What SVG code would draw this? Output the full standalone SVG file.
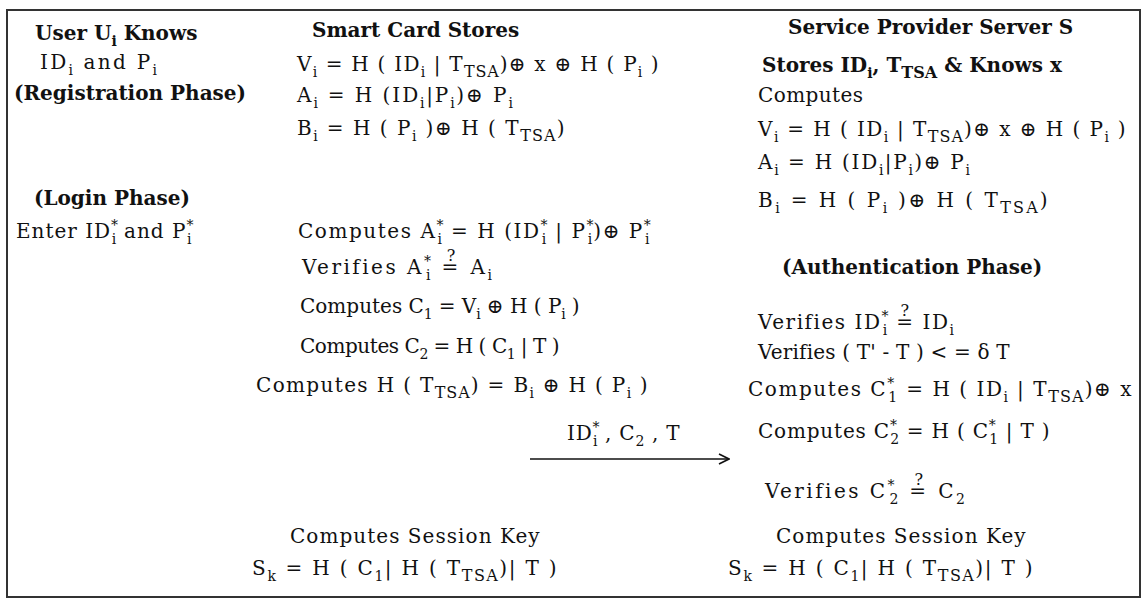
<svg xmlns="http://www.w3.org/2000/svg" width="1142" height="600" viewBox="0 0 1142 600">
<defs>
<style>
.t{font-family:"DejaVu Serif",serif;font-size:20px;letter-spacing:0.4px;fill:#111}
.b{font-family:"DejaVu Serif",serif;font-size:20px;font-weight:bold;fill:#111}
.s{font-size:14px;letter-spacing:0}
.ts{font-size:16px;letter-spacing:0}
.q{font-size:16px}
</style>
<marker id="ah" viewBox="0 0 12 12" refX="11" refY="6" markerWidth="12" markerHeight="12" markerUnits="userSpaceOnUse" orient="auto"><path d="M1,1 L11,6 L1,11" fill="none" stroke="#111" stroke-width="1.6"/></marker>
</defs>
<rect x="0" y="0" width="1142" height="600" fill="#fff"/>
<rect id="frame" x="7" y="10" width="1133" height="587" fill="none" stroke="#333" stroke-width="2"/>

<g id="user">
<text class="b" x="35" y="40">User U<tspan class="s" dy="6">i</tspan><tspan dy="-6"> Knows</tspan></text>
<text class="t" x="40" y="69" textLength="117">ID<tspan class="s" dy="6">i</tspan><tspan dy="-6"> and P</tspan><tspan class="s" dy="6">i</tspan></text>
<text class="b" x="14" y="100">(Registration Phase)</text>
<text class="b" x="34" y="205">(Login Phase)</text>
<text class="t" x="16" y="238" textLength="178">Enter ID<tspan class="s" dy="-8">*</tspan><tspan class="s" dx="-7" dy="14">i</tspan><tspan dy="-6"> and P</tspan><tspan class="s" dy="-8">*</tspan><tspan class="s" dx="-7" dy="14">i</tspan></text>
</g>

<g id="card">
<text class="b" x="312" y="37">Smart Card Stores</text>
<text class="t" x="297" y="71" textLength="362">V<tspan class="s" dy="6">i</tspan><tspan dy="-6"> = H ( ID</tspan><tspan class="s" dy="6">i</tspan><tspan dy="-6"> | T</tspan><tspan class="ts" dy="6">TSA</tspan><tspan dy="-6">)⊕ x ⊕ H ( P</tspan><tspan class="s" dy="6">i</tspan><tspan dy="-6"> )</tspan></text>
<text class="t" x="297" y="102" textLength="216">A<tspan class="s" dy="6">i</tspan><tspan dy="-6"> = H (ID</tspan><tspan class="s" dy="6">i</tspan><tspan dy="-6">|P</tspan><tspan class="s" dy="6">i</tspan><tspan dy="-6">)⊕ P</tspan><tspan class="s" dy="6">i</tspan></text>
<text class="t" x="297" y="135" textLength="268">B<tspan class="s" dy="6">i</tspan><tspan dy="-6"> = H ( P</tspan><tspan class="s" dy="6">i</tspan><tspan dy="-6"> )⊕ H ( T</tspan><tspan class="ts" dy="6">TSA</tspan><tspan dy="-6">)</tspan></text>
<text class="t" x="298" y="238" textLength="354">Computes A<tspan class="s" dy="-8">*</tspan><tspan class="s" dx="-7" dy="14">i</tspan><tspan dy="-6"> = H (ID</tspan><tspan class="s" dy="-8">*</tspan><tspan class="s" dx="-7" dy="14">i</tspan><tspan dy="-6"> | P</tspan><tspan class="s" dy="-8">*</tspan><tspan class="s" dx="-7" dy="14">i</tspan><tspan dy="-6">)⊕ P</tspan><tspan class="s" dy="-8">*</tspan><tspan class="s" dx="-7" dy="14">i</tspan></text>
<text class="t" x="302" y="274" textLength="190">Verifies  A<tspan class="s" dy="-8">*</tspan><tspan class="s" dx="-7" dy="14">i</tspan><tspan dy="-6"> =</tspan><tspan class="q" dx="-14" dy="-13">?</tspan><tspan dx="4" dy="13"> A</tspan><tspan class="s" dy="6">i</tspan></text>
<text class="t" x="300" y="313" textLength="280">Computes C<tspan class="s" dy="6">1</tspan><tspan dy="-6"> =  V</tspan><tspan class="s" dy="6">i</tspan><tspan dy="-6"> ⊕ H ( P</tspan><tspan class="s" dy="6">i</tspan><tspan dy="-6"> )</tspan></text>
<text class="t" x="300" y="353" textLength="260">Computes C<tspan class="s" dy="6">2</tspan><tspan dy="-6"> = H ( C</tspan><tspan class="s" dy="6">1</tspan><tspan dy="-6"> | T )</tspan></text>
<text class="t" x="256" y="392" textLength="392">Computes H ( T<tspan class="ts" dy="6">TSA</tspan><tspan dy="-6">) = B</tspan><tspan class="s" dy="6">i</tspan><tspan dy="-6"> ⊕ H ( P</tspan><tspan class="s" dy="6">i</tspan><tspan dy="-6"> )</tspan></text>
<text class="t" x="290" y="543" textLength="250">Computes Session Key</text>
<text class="t" x="252" y="575" textLength="305">S<tspan class="s" dy="6">k</tspan><tspan dy="-6"> = H ( C</tspan><tspan class="s" dy="6">1</tspan><tspan dy="-6">| H ( T</tspan><tspan class="ts" dy="6">TSA</tspan><tspan dy="-6">)| T )</tspan></text>
</g>

<g id="server">
<text class="b" x="788" y="34">Service Provider Server S</text>
<text class="b" x="762" y="72">Stores ID<tspan class="s" dy="6">i</tspan><tspan dy="-6">, T</tspan><tspan class="ts" dy="6">TSA</tspan><tspan dy="-6"> &amp; Knows x</tspan></text>
<text class="t" x="758" y="102">Computes</text>
<text class="t" x="758" y="136" textLength="368">V<tspan class="s" dy="6">i</tspan><tspan dy="-6"> = H ( ID</tspan><tspan class="s" dy="6">i</tspan><tspan dy="-6"> | T</tspan><tspan class="ts" dy="6">TSA</tspan><tspan dy="-6">)⊕ x ⊕ H ( P</tspan><tspan class="s" dy="6">i</tspan><tspan dy="-6"> )</tspan></text>
<text class="t" x="758" y="169" textLength="212">A<tspan class="s" dy="6">i</tspan><tspan dy="-6"> = H (ID</tspan><tspan class="s" dy="6">i</tspan><tspan dy="-6">|P</tspan><tspan class="s" dy="6">i</tspan><tspan dy="-6">)⊕ P</tspan><tspan class="s" dy="6">i</tspan></text>
<text class="t" x="758" y="207" textLength="290">B<tspan class="s" dy="6">i</tspan><tspan dy="-6"> = H ( P</tspan><tspan class="s" dy="6">i</tspan><tspan dy="-6"> )⊕ H ( T</tspan><tspan class="ts" dy="6">TSA</tspan><tspan dy="-6">)</tspan></text>
<text class="b" x="782" y="274">(Authentication Phase)</text>
<text class="t" x="758" y="329" textLength="196">Verifies ID<tspan class="s" dy="-8">*</tspan><tspan class="s" dx="-7" dy="14">i</tspan><tspan dy="-6"> =</tspan><tspan class="q" dx="-14" dy="-13">?</tspan><tspan dx="4" dy="13"> ID</tspan><tspan class="s" dy="6">i</tspan></text>
<text class="t" x="758" y="359" textLength="252">Verifies ( T' - T ) &lt; = δ T</text>
<text class="t" x="748" y="396" textLength="384">Computes C<tspan class="s" dy="-8">*</tspan><tspan class="s" dx="-7" dy="14">1</tspan><tspan dy="-6"> = H ( ID</tspan><tspan class="s" dy="6">i</tspan><tspan dy="-6"> | T</tspan><tspan class="ts" dy="6">TSA</tspan><tspan dy="-6">)⊕ x</tspan></text>
<text class="t" x="758" y="438" textLength="292">Computes  C<tspan class="s" dy="-8">*</tspan><tspan class="s" dx="-7" dy="14">2</tspan><tspan dy="-6"> = H ( C</tspan><tspan class="s" dy="-8">*</tspan><tspan class="s" dx="-7" dy="14">1</tspan><tspan dy="-6"> | T )</tspan></text>
<text class="t" x="765" y="498" textLength="200">Verifies  C<tspan class="s" dy="-8">*</tspan><tspan class="s" dx="-7" dy="14">2</tspan><tspan dy="-6">  =</tspan><tspan class="q" dx="-14" dy="-13">?</tspan><tspan dx="4" dy="13">  C</tspan><tspan class="s" dy="6">2</tspan></text>
<text class="t" x="776" y="543" textLength="250">Computes Session Key</text>
<text class="t" x="728" y="575" textLength="305">S<tspan class="s" dy="6">k</tspan><tspan dy="-6"> = H ( C</tspan><tspan class="s" dy="6">1</tspan><tspan dy="-6">| H ( T</tspan><tspan class="ts" dy="6">TSA</tspan><tspan dy="-6">)| T )</tspan></text>
</g>

<g id="connectors">
<line x1="530" y1="459" x2="729" y2="459" stroke="#111" stroke-width="1.6" marker-end="url(#ah)"/>
<text class="t" x="567" y="440" textLength="113">ID<tspan class="s" dy="-8">*</tspan><tspan class="s" dx="-7" dy="14">i</tspan><tspan dy="-6"> , C</tspan><tspan class="s" dy="6">2</tspan><tspan dy="-6"> , T</tspan></text>
</g>
</svg>
